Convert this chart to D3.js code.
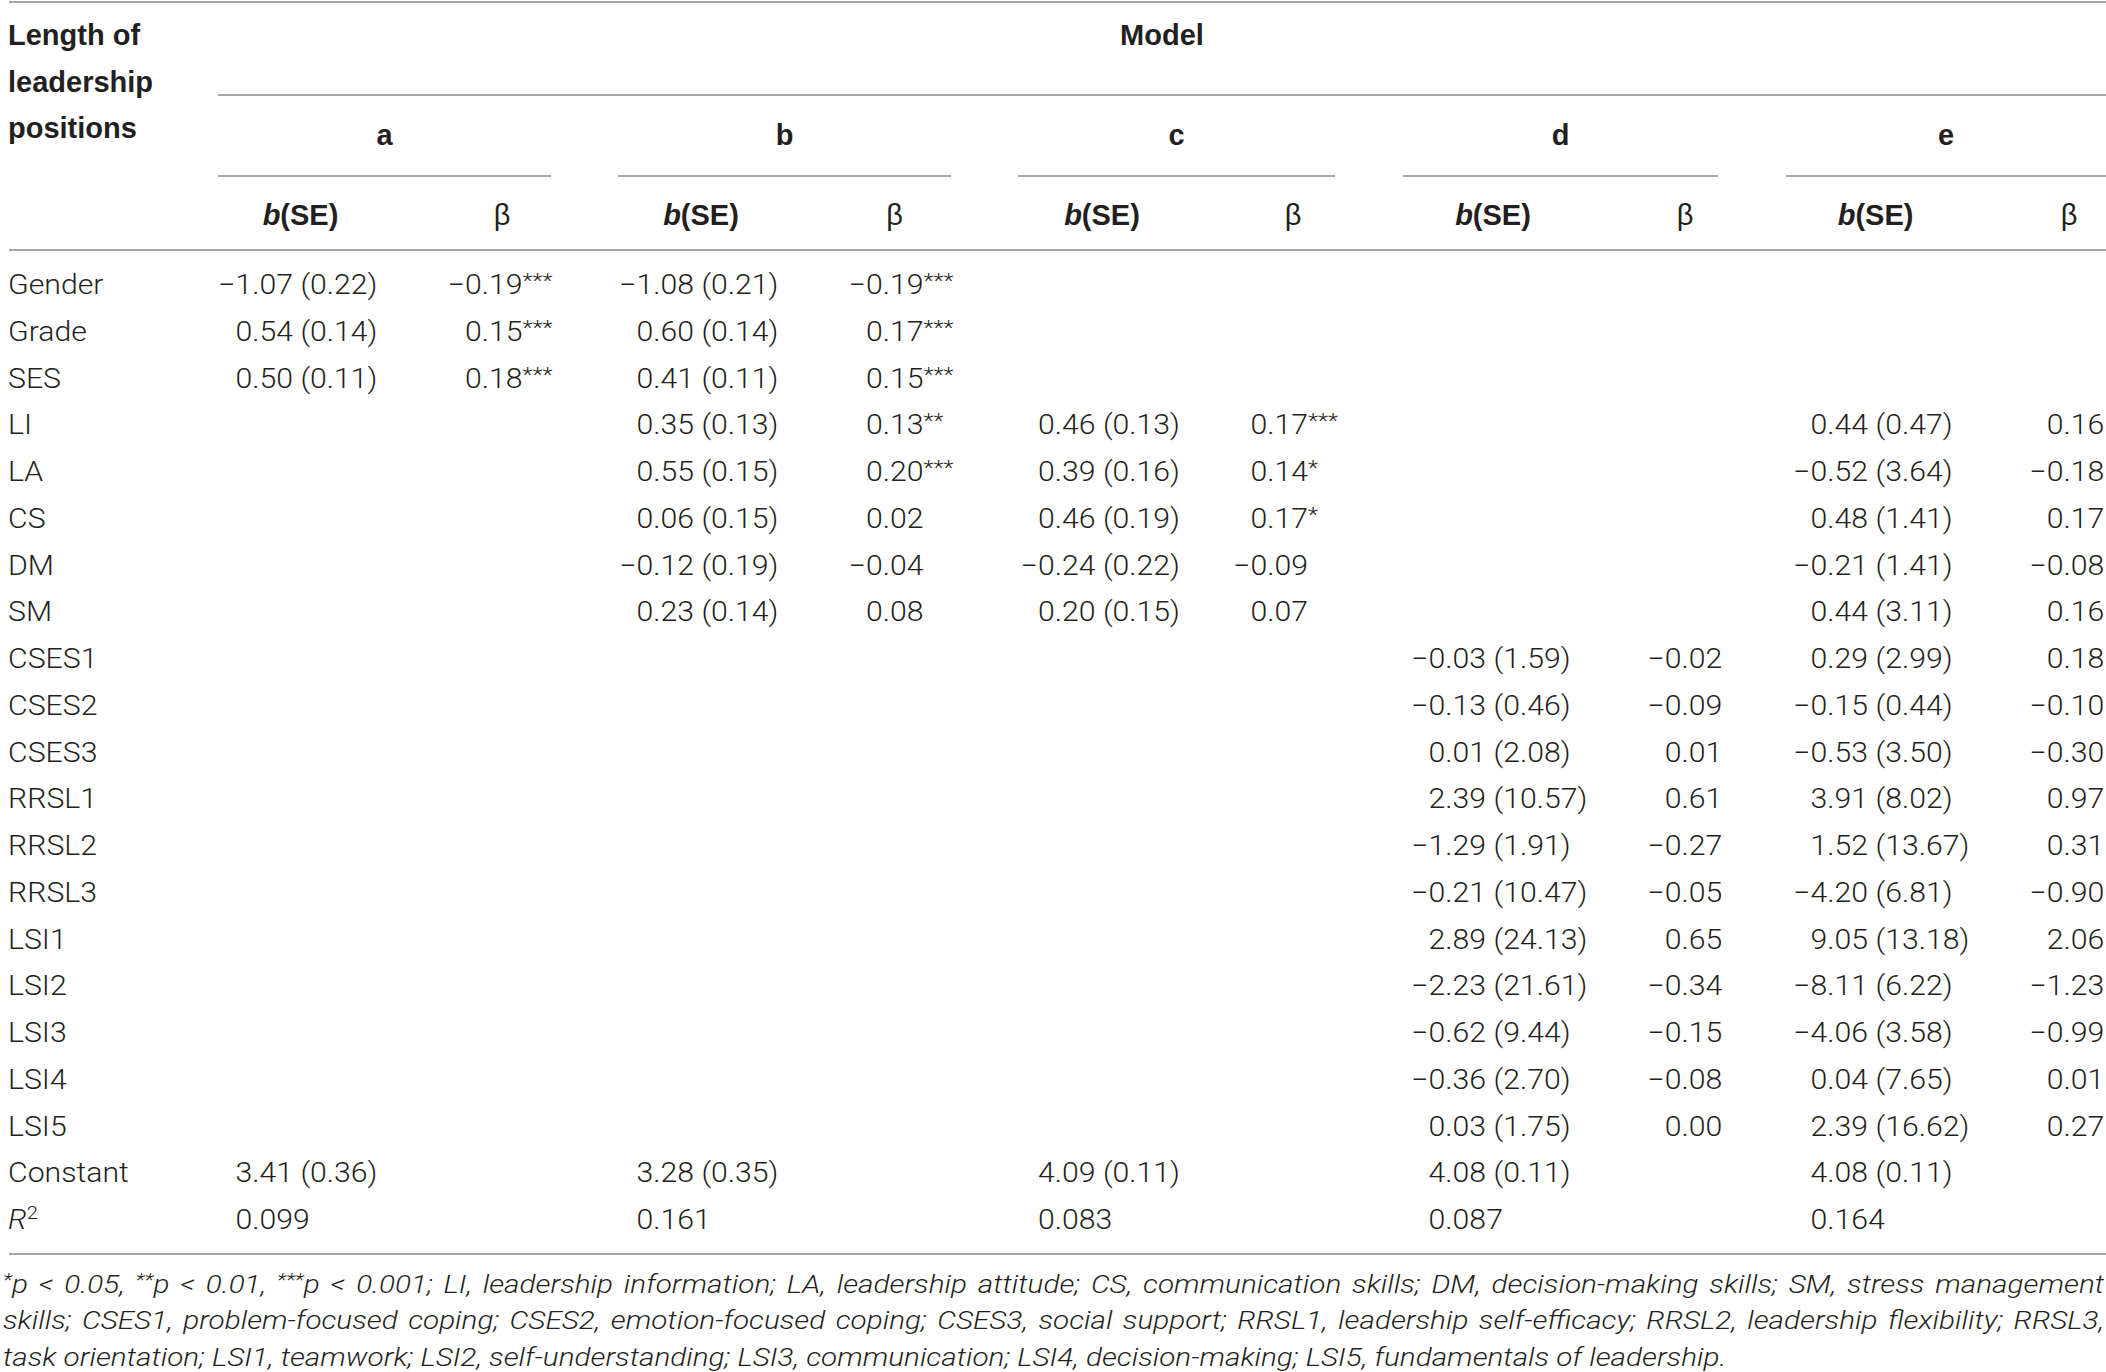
<!DOCTYPE html>
<html lang="en">
<head>
<meta charset="UTF-8">
<title>Length of leadership positions - models a to e</title>
<script src="https://d3js.org/d3.v7.min.js"></script>
<style>
  body { margin: 0; background: #fff; }
  svg { display: block; }
  text { fill: #231f20; }
  .head { font-family: "Liberation Sans", Arial, sans-serif; font-weight: bold; font-size: 29px; }
  .cell { font-family: Roboto, sans-serif; font-weight: 300; font-size: 27px; }
  .note { font-family: Roboto, sans-serif; font-weight: 300; font-style: italic; font-size: 26px; }
  .rule { stroke: #a8a8a8; stroke-width: 2px; }
</style>
</head>
<body>
<svg width="2106" height="1372"></svg>
<script>
// rows of the table
const rowLabels = ["Gender", "Grade", "SES", "LI", "LA", "CS", "DM", "SM",
  "CSES1", "CSES2", "CSES3", "RRSL1", "RRSL2", "RRSL3",
  "LSI1", "LSI2", "LSI3", "LSI4", "LSI5", "Constant", "R2"];

const modelNames = ["a", "b", "c", "d", "e"];

// [row, b, SE, beta, significance]
const modelA = [
  ["Gender", -1.07, 0.22, -0.19, "***"],
  ["Grade", 0.54, 0.14, 0.15, "***"],
  ["SES", 0.50, 0.11, 0.18, "***"]
];
const modelB = [
  ["Gender", -1.08, 0.21, -0.19, "***"],
  ["Grade", 0.60, 0.14, 0.17, "***"],
  ["SES", 0.41, 0.11, 0.15, "***"],
  ["LI", 0.35, 0.13, 0.13, "**"],
  ["LA", 0.55, 0.15, 0.20, "***"],
  ["CS", 0.06, 0.15, 0.02, ""],
  ["DM", -0.12, 0.19, -0.04, ""],
  ["SM", 0.23, 0.14, 0.08, ""]
];
const modelC = [
  ["LI", 0.46, 0.13, 0.17, "***"],
  ["LA", 0.39, 0.16, 0.14, "*"],
  ["CS", 0.46, 0.19, 0.17, "*"],
  ["DM", -0.24, 0.22, -0.09, ""],
  ["SM", 0.20, 0.15, 0.07, ""]
];
const modelD = [
  ["CSES1", -0.03, 1.59, -0.02, ""],
  ["CSES2", -0.13, 0.46, -0.09, ""],
  ["CSES3", 0.01, 2.08, 0.01, ""],
  ["RRSL1", 2.39, 10.57, 0.61, ""],
  ["RRSL2", -1.29, 1.91, -0.27, ""],
  ["RRSL3", -0.21, 10.47, -0.05, ""],
  ["LSI1", 2.89, 24.13, 0.65, ""],
  ["LSI2", -2.23, 21.61, -0.34, ""],
  ["LSI3", -0.62, 9.44, -0.15, ""],
  ["LSI4", -0.36, 2.70, -0.08, ""],
  ["LSI5", 0.03, 1.75, 0.00, ""]
];
const modelE = [
  ["LI", 0.44, 0.47, 0.16, ""],
  ["LA", -0.52, 3.64, -0.18, ""],
  ["CS", 0.48, 1.41, 0.17, ""],
  ["DM", -0.21, 1.41, -0.08, ""],
  ["SM", 0.44, 3.11, 0.16, ""],
  ["CSES1", 0.29, 2.99, 0.18, ""],
  ["CSES2", -0.15, 0.44, -0.10, ""],
  ["CSES3", -0.53, 3.50, -0.30, ""],
  ["RRSL1", 3.91, 8.02, 0.97, ""],
  ["RRSL2", 1.52, 13.67, 0.31, ""],
  ["RRSL3", -4.20, 6.81, -0.90, ""],
  ["LSI1", 9.05, 13.18, 2.06, ""],
  ["LSI2", -8.11, 6.22, -1.23, ""],
  ["LSI3", -4.06, 3.58, -0.99, ""],
  ["LSI4", 0.04, 7.65, 0.01, ""],
  ["LSI5", 2.39, 16.62, 0.27, ""]
];
const models = [modelA, modelB, modelC, modelD, modelE];

// constant [b, SE] and R2 per model
const constants = [[3.41, 0.36], [3.28, 0.35], [4.09, 0.11], [4.08, 0.11], [4.08, 0.11]];
const rSquared = [0.099, 0.161, 0.083, 0.087, 0.164];

const notes = [
  "*p < 0.05, **p < 0.01, ***p < 0.001; LI, leadership information; LA, leadership attitude; CS, communication skills; DM, decision-making skills; SM, stress management",
  "skills; CSES1, problem-focused coping; CSES2, emotion-focused coping; CSES3, social support; RRSL1, leadership self-efficacy; RRSL2, leadership flexibility; RRSL3,",
  "task orientation; LSI1, teamwork; LSI2, self-understanding; LSI3, communication; LSI4, decision-making; LSI5, fundamentals of leadership."
];

// column layout (pixels)
const cols = [
  {x0: 218, x1: 551, bse: 235.5, beta: 465, bseHead: 300.5, betaHead: 502},
  {x0: 618, x1: 951, bse: 636.5, beta: 866, bseHead: 701, betaHead: 894.5},
  {x0: 1018, x1: 1335, bse: 1038, beta: 1250.5, bseHead: 1102, betaHead: 1293},
  {x0: 1403, x1: 1718, bse: 1428.6, beta: 1664.7, bseHead: 1493, betaHead: 1685},
  {x0: 1786, x1: 2106, bse: 1810.6, beta: 2046.7, bseHead: 1875.6, betaHead: 2069}
];

const svg = d3.select("svg");
const width = +svg.attr("width");

const y = d3.scalePoint().domain(rowLabels).range([284.7, 1219.7]);
const f2 = d3.format(".2f");
const f3 = d3.format(".3f");
const base = 9.5;   // baseline offset from row centre
const sx = 1.12;    // the light face of the original is wider than Roboto

function place(sel, x, yy, k) {
  return sel.attr("transform", `translate(${x},${yy}) scale(${k},1)`);
}

// rules
const rules = [
  [9, width, 2], [218, width, 95],
  ...cols.map(c => [c.x0, c.x1, 176]),
  [9, width, 250], [9, width, 1254]
];
svg.append("g").selectAll("line").data(rules).join("line")
  .attr("class", "rule")
  .attr("x1", d => d[0]).attr("x2", d => d[1])
  .attr("y1", d => d[2]).attr("y2", d => d[2]);

// header
const head = svg.append("g").attr("class", "head");
head.selectAll(".stub").data(["Length of", "leadership", "positions"]).join("text")
  .attr("x", 8).attr("y", (d, i) => 45 + i * 46.7).text(d => d);
head.append("text").attr("x", (218 + width) / 2).attr("y", 45)
  .attr("text-anchor", "middle").text("Model");
head.selectAll(".model").data(modelNames).join("text")
  .attr("x", (d, i) => (cols[i].x0 + cols[i].x1) / 2).attr("y", 145)
  .attr("text-anchor", "middle").text(d => d);

cols.forEach(c => {
  const t = head.append("text").attr("x", c.bseHead).attr("y", 225).attr("text-anchor", "middle");
  t.append("tspan").style("font-style", "italic").text("b");
  t.append("tspan").text("(SE)");
  head.append("text").attr("x", c.betaHead).attr("y", 225).attr("text-anchor", "middle")
    .style("font-weight", "normal").text("\u03B2");
});

// body
const body = svg.append("g").attr("class", "cell");

body.selectAll(".label").data(rowLabels).join("text")
  .each(function(d) {
    const t = place(d3.select(this), 8, y(d) + base, sx);
    if (d === "R2") {
      t.append("tspan").style("font-style", "italic").text("R");
      t.append("tspan").attr("dy", -10).style("font-size", "18px").text("2");
    } else {
      t.text(d);
    }
  });

// width of the minus sign, so signed numbers hang to the left
const probe = body.append("text").text("\u2212");
const minusW = probe.node().getComputedTextLength() * sx;
probe.remove();

function cell(g, x, row, value, text, stars) {
  const t = place(g.append("text"), value < 0 ? x - minusW : x, y(row) + base, sx);
  t.append("tspan").text(text);
  if (stars) t.append("tspan").attr("dy", -6).style("font-size", "21px").text(stars);
}

models.forEach((m, i) => {
  const c = cols[i];
  m.forEach(([row, b, se, beta, sig]) => {
    cell(body, c.bse, row, b, `${f2(b)} (${f2(se)})`, "");
    cell(body, c.beta, row, beta, f2(beta), sig);
  });
  cell(body, c.bse, "Constant", constants[i][0], `${f2(constants[i][0])} (${f2(constants[i][1])})`, "");
  cell(body, c.bse, "R2", rSquared[i], f3(rSquared[i]), "");
});

// footnote: last line sets the horizontal scale, the first two are justified
const note = svg.append("g").attr("class", "note");
const noteProbe = note.append("text").text(notes[2]);
const nx = 1724 / noteProbe.node().getComputedTextLength();
noteProbe.remove();

notes.forEach((line, i) => {
  const t = place(note.append("text"), 3, 1293 + i * 36.3, nx);
  let raised = false;
  line.split(/(\*+)/).filter(s => s.length).forEach(part => {
    if (/^\*+$/.test(part)) {
      t.append("tspan").attr("dy", -7).style("font-size", "19px").text(part);
      raised = true;
    } else {
      const sp = t.append("tspan").text(part);
      if (raised) { sp.attr("dy", 7); raised = false; }
    }
  });
  if (i < 2) {
    const w = t.node().getComputedTextLength();
    const gaps = line.split(" ").length - 1;
    t.style("word-spacing", (((width - 5) / nx - w) / gaps) + "px");
  }
});
</script>
</body>
</html>
